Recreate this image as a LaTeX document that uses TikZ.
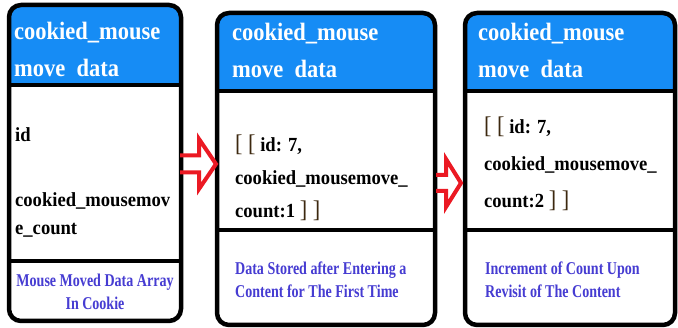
\documentclass[tikz,border=0pt]{standalone}
\usepackage{fontspec}
\setmainfont{Liberation Serif}
\usetikzlibrary{calc}
\definecolor{hdrblue}{RGB}{22,140,245}
\definecolor{notecol}{RGB}{70,60,210}
\definecolor{arrred}{RGB}{235,25,35}
\definecolor{brkcol}{RGB}{60,40,15}
\tikzset{
	frame/.style={line width=4.5pt, rounded corners=12pt},
	hdrtext/.style={anchor=base west, inner sep=0pt, text=white, align=left, xscale=0.9, font=\fontsize{25}{37}\selectfont\bfseries},
	fieldtext/.style={anchor=base west, inner sep=0pt, align=left, xscale=0.93, font=\fontsize{20}{30}\selectfont\bfseries},
	notetext/.style={inner sep=0pt, text=notecol, xscale=0.78, font=\fontsize{18}{23}\selectfont\bfseries},
	blockarr/.style={draw=arrred, line width=4pt, line join=miter},
}
% from, tip, half shaft, half head, head length
\newcommand{\blockarrow}[5]{\draw[blockarr] ($(#1)+(0,-#3)$) -- ($(#2)+(-#5,-#3)$) -- ($(#2)+(-#5,-#4)$) -- (#2) -- ($(#2)+(-#5,#4)$) -- ($(#2)+(-#5,#3)$) -- ($(#1)+(0,#3)$);}
\newcommand{\brk}[1]{{\mdseries\color{brkcol}\fontsize{24}{24}\selectfont#1}}

\begin{document}
\begin{tikzpicture}[x=1pt,y=-1pt]
	\useasboundingbox (0,0) rectangle (678,328);
	
	%%%%% boxes %%%%%
	\foreach \xa/\ya/\xb/\yb/\da/\db/\n in {9/5/181/321/85/261/a, 217/13/435/325/91/230/b, 465/13/675/325/91/230/c} {
		\coordinate (\n-nw) at (\xa,\ya);
		\coordinate (\n-se) at (\xb,\yb);
		\fill[white, rounded corners=12pt] (\n-nw) rectangle (\n-se);
		\begin{scope}
			\clip[rounded corners=12pt] (\n-nw) rectangle (\n-se);
			\fill[hdrblue] (\n-nw) rectangle (\xb,\da);
		\end{scope}
		\draw[line width=4.5pt] (\xa,\da) -- (\xb,\da);
		\draw[line width=4.5pt] (\xa,\db) -- (\xb,\db);
		\draw[frame] (\n-nw) rectangle (\n-se);
	}
	
	%%%%% arrows %%%%%
	\coordinate (a-out) at (180,164);
	\coordinate (b-in) at (216,164);
	\coordinate (b-out) at (436,183);
	\coordinate (c-in) at (461,183);
	\blockarrow{a-out}{b-in}{8.5}{25}{17}
	\blockarrow{b-out}{c-in}{8}{24}{15}
	
	%%%%% titles (at last baseline) %%%%%
	\node[hdrtext] (a-title) at (14,77) {cookied\_mouse\\move~~data};
	\node[hdrtext] (b-title) at (232,78) {cookied\_mouse\\move~~data};
	\node[hdrtext] (c-title) at (478,78) {cookied\_mouse\\move~~data};
	
	%%%%% fields %%%%%
	\node[fieldtext] (a-id) at (15,142) {id};
	\node[fieldtext, font=\fontsize{20}{28}\selectfont\bfseries] (a-count) at (15,235) {cookied\_mousemov\\e\_count};
	\node[fieldtext, font=\fontsize{20}{33}\selectfont\bfseries] (b-rec) at (235,218) {\brk{[ [} id: 7,\\cookied\_mousemove\_\\count:1 \brk{] ]}};
	\node[fieldtext, font=\fontsize{20}{37}\selectfont\bfseries] (c-rec) at (484,208) {\brk{[ [} id: 7,\\cookied\_mousemove\_\\count:2 \brk{] ]}};
	
	%%%%% notes %%%%%
	\node[notetext, anchor=base, align=center] (a-note) at (95,310) {Mouse Moved Data Array\\In Cookie};
	\node[notetext, anchor=base west, align=left] (b-note) at (235,298) {Data Stored after Entering a\\Content for The First Time};
	\node[notetext, anchor=base west, align=left] (c-note) at (485,298) {Increment of Count Upon\\Revisit of The Content};
\end{tikzpicture}
\end{document}
